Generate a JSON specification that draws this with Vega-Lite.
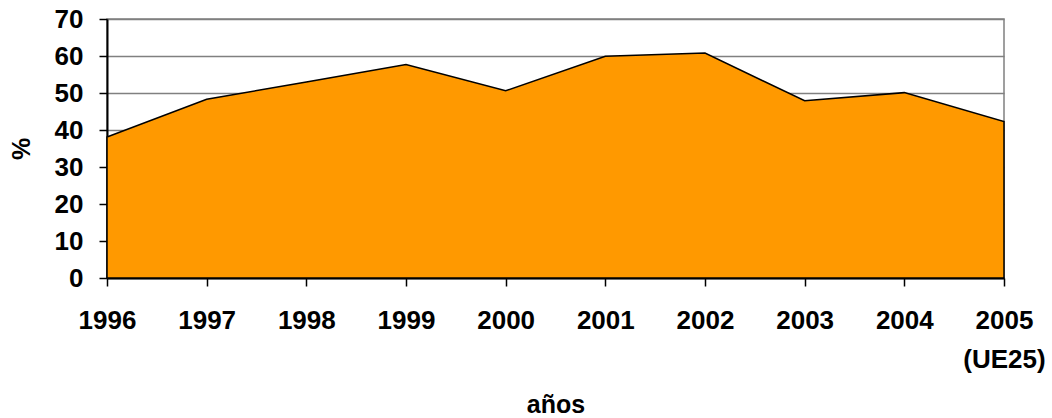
{
  "$schema": "https://vega.github.io/schema/vega-lite/v6.json",
  "width": 897,
  "height": 259,
  "autosize": "none",
  "padding": {"left": 107, "top": 19, "right": 48, "bottom": 140},
  "background": "white",
  "config": {
    "font": "Liberation Sans",
    "view": {"stroke": "#808080", "strokeWidth": 1.5}
  },
  "data": {
    "values": [
      {"year": "1996", "pct": 38.1},
      {"year": "1997", "pct": 48.3},
      {"year": "1998", "pct": 53.0},
      {"year": "1999", "pct": 57.7},
      {"year": "2000", "pct": 50.6},
      {"year": "2001", "pct": 59.9},
      {"year": "2002", "pct": 60.8},
      {"year": "2003", "pct": 47.9},
      {"year": "2004", "pct": 50.1},
      {"year": "2005 (UE25)", "pct": 42.3}
    ]
  },
  "mark": {"type": "area", "color": "#FF9900", "stroke": "black", "strokeWidth": 1.5, "opacity": 1},
  "encoding": {
    "x": {
      "field": "year",
      "type": "ordinal",
      "sort": null,
      "scale": {"type": "point", "padding": 0},
      "axis": {
        "title": "años",
        "labelAngle": 0,
        "labelExpr": "split(datum.label, ' ')",
        "labelFontSize": 26,
        "labelFontWeight": "bold",
        "labelColor": "black",
        "labelLineHeight": 39,
        "labelPadding": 21,
        "labelBaseline": "top",
        "tickSize": 8,
        "tickColor": "black",
        "tickWidth": 1.5,
        "domainColor": "black",
        "domainWidth": 2,
        "grid": false,
        "titleFontSize": 25,
        "titleFontWeight": "bold",
        "titleColor": "black",
        "titlePadding": 20
      }
    },
    "y": {
      "field": "pct",
      "type": "quantitative",
      "scale": {"domain": [0, 70], "nice": false},
      "axis": {
        "title": "%",
        "values": [0, 10, 20, 30, 40, 50, 60, 70],
        "labelFontSize": 26,
        "labelFontWeight": "bold",
        "labelColor": "black",
        "labelPadding": 16,
        "tickSize": 8,
        "tickColor": "black",
        "tickWidth": 1.5,
        "domainColor": "black",
        "domainWidth": 2,
        "gridColor": "#808080",
        "gridWidth": 1.5,
        "gridOpacity": 1,
        "titleFontSize": 25,
        "titleFontWeight": "bold",
        "titleColor": "black",
        "titlePadding": 20
      }
    }
  }
}
